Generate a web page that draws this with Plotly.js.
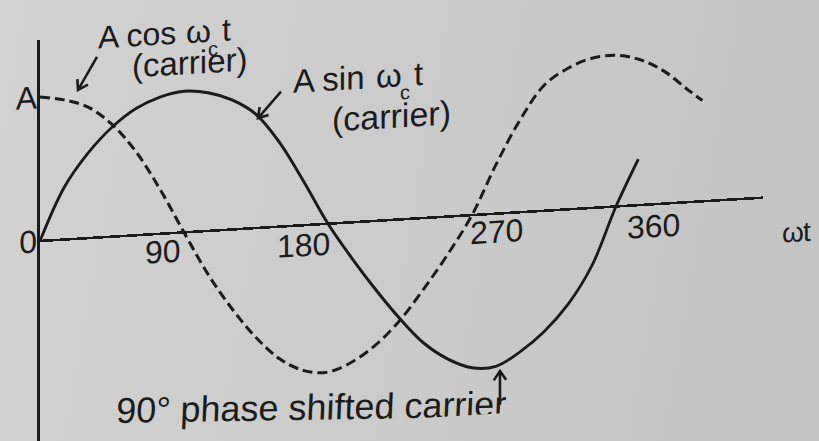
<!DOCTYPE html>
<html>
<head>
<meta charset="utf-8">
<script src="https://cdn.plot.ly/plotly-3.0.1.min.js"></script>
<style>
  html, body {
    margin: 0; padding: 0; width: 819px; height: 441px; overflow: hidden;
    background: linear-gradient(100deg, #d2d2d2 0%, #cacaca 55%, #c3c3c3 100%);
  }
  /* the printed figure sits slightly tilted on the page */
  #chart {
    width: 819px; height: 441px;
    transform: skewY(-3.43deg);
    transform-origin: 40px 241px;
  }
</style>
</head>
<body>
<div id="chart"></div>
<script>
// phase angle (degrees) and amplitude (in units of A) of the two carriers
const sinDeg = [0, 15, 30, 45, 60, 75, 90, 105, 120, 135, 150, 165, 180, 195, 210, 225,
                240, 255, 270, 285, 300, 315, 330, 345, 360, 374];
const sinVal = [0, 0.36, 0.59, 0.76, 0.88, 0.95, 0.98, 0.96, 0.90, 0.79, 0.58, 0.30, 0,
                -0.25, -0.48, -0.69, -0.87, -0.99, -1.06, -1.06, -0.97, -0.84, -0.66, -0.40, 0, 0.32];

const cosDeg = [0, 15, 30, 45, 60, 75, 90, 105, 120, 135, 150, 165, 180, 195, 210, 225,
                240, 255, 270, 285, 300, 315, 330, 345, 360, 375, 390, 405, 414];
const cosVal = [1.00, 0.97, 0.91, 0.78, 0.58, 0.31, 0, -0.30, -0.55, -0.76, -0.92, -1.01, -1.03,
                -0.97, -0.86, -0.70, -0.49, -0.26, 0, 0.34, 0.64, 0.87, 0.98, 1.04, 1.05, 1.01,
                0.92, 0.78, 0.70];

// axis labels
const phaseTicks = [90, 180, 270, 360];
const phaseTickText = ['90', '180', '270', '360'];
const ampTicks = [0, 1];
const ampTickText = ['0', 'A'];

const ink = '#1b1b1b';
const SANS = 'Liberation Sans, Arial, Helvetica, sans-serif';

const traces = [
  {
    x: sinDeg, y: sinVal, type: 'scatter', mode: 'lines',
    line: {color: ink, width: 2.9, shape: 'spline', smoothing: 1},
    name: 'A sin ωct'
  },
  {
    x: cosDeg, y: cosVal, type: 'scatter', mode: 'lines',
    line: {color: ink, width: 3, dash: '10px,5px', shape: 'spline', smoothing: 1},
    name: 'A cos ωct'
  }
];

// tick labels sit beside each zero crossing
const tickPlacement = [
  {xanchor: 'right', xshift: -1, yshift: -18},
  {xanchor: 'right', xshift: 4, yshift: -20},
  {xanchor: 'left', xshift: -4, yshift: -18},
  {xanchor: 'left', xshift: 9, yshift: -22}
];
const tickAnns = phaseTicks.map((v, i) => Object.assign({
  x: v, y: 0, xref: 'x', yref: 'y', text: phaseTickText[i], showarrow: false,
  yanchor: 'middle', font: {size: 32, color: ink}
}, tickPlacement[i]));

// one piece of a label, left-aligned at phase x
function piece(text, x, y, size, opts) {
  return Object.assign({
    x: x, y: y, xref: 'x', yref: 'y', text: text, showarrow: false,
    xanchor: 'left', yanchor: 'middle', font: {size: size, color: ink, family: SANS}
  }, opts || {});
}

// "A cos ωc t" and "A sin ωc t" are built from pieces so the subscript sits low
const cosLabelY = 0.9975, sinLabelY = 1.005;
const labelAnns = [
  piece('A cos', 35, cosLabelY, 32, {yref: 'paper'}),
  piece('ω', 90, cosLabelY, 32, {yref: 'paper'}),
  piece('c', 103.75, cosLabelY, 20, {yref: 'paper', yshift: -18}),
  piece('t', 112.5, cosLabelY, 32, {yref: 'paper'}),
  {x: 93.75, y: 1.18, xref: 'x', yref: 'y', text: '(carrier)', showarrow: false,
   xanchor: 'center', yanchor: 'middle', font: {size: 33, color: ink}},

  piece('A sin', 156.9, sinLabelY, 33),
  piece('ω', 208.75, sinLabelY, 33),
  piece('c', 223.75, sinLabelY, 20, {yshift: -18}),
  piece('t', 232.5, sinLabelY, 33),
  {x: 219.7, y: 0.72, xref: 'x', yref: 'y', text: '(carrier)', showarrow: false,
   xanchor: 'center', yanchor: 'middle', font: {size: 34, color: ink}},

  {x: 170, y: -1.27, xref: 'x', yref: 'y', text: '90° phase shifted carrier',
   showarrow: false, xanchor: 'center', yanchor: 'middle', textangle: 2.5,
   font: {size: 36, color: ink}},

  // horizontal axis name
  piece('ω', 1.0235, -0.252, 28, {xref: 'paper'}),
  piece('t', 1.0526, -0.252, 28, {xref: 'paper'})
];

// pointer arrows: tip in data units, tail offset in pixels (up is positive)
function pointer(tipX, tipY, dx, dy) {
  const L = Math.hypot(dx, dy), ux = dx / L, uy = dy / L;
  const arm = 11, spread = 34 * Math.PI / 180;
  const rot = a => [arm * (ux * Math.cos(a) - uy * Math.sin(a)),
                    arm * (ux * Math.sin(a) + uy * Math.cos(a))];
  const [ax1, ay1] = rot(spread), [ax2, ay2] = rot(-spread);
  return {
    type: 'path', xref: 'x', yref: 'y',
    xsizemode: 'pixel', ysizemode: 'pixel', xanchor: tipX, yanchor: tipY,
    path: `M${dx},${dy}L0,0M${ax1.toFixed(2)},${ay1.toFixed(2)}L0,0L${ax2.toFixed(2)},${ay2.toFixed(2)}`,
    line: {color: ink, width: 2.6}
  };
}
const shapes = [
  pointer(23.75, 1.033, 19, 32),
  pointer(136.25, 0.763, 23, 25),
  pointer(287.5, -1.094, 0, -34)
];

const layout = {
  width: 819, height: 441,
  margin: {l: 40, r: 56, t: 40, b: 0, pad: 0},
  paper_bgcolor: 'rgba(0,0,0,0)',
  plot_bgcolor: 'rgba(0,0,0,0)',
  showlegend: false,
  font: {family: SANS, color: ink},
  xaxis: {
    range: [0, 451.9], showgrid: false, zeroline: false, showline: false,
    showticklabels: false, ticks: ''
  },
  yaxis: {
    range: [-1.389, 1.396], showgrid: false,
    zeroline: true, zerolinecolor: ink, zerolinewidth: 2.6,
    showline: true, linecolor: ink, linewidth: 2.6,
    tickmode: 'array', tickvals: ampTicks, ticktext: ampTickText,
    ticks: 'inside', ticklen: 6, tickwidth: 2, tickcolor: ink,
    ticklabelstandoff: -6,
    tickfont: {size: 32, color: ink}
  },
  shapes: shapes,
  annotations: tickAnns.concat(labelAnns)
};

Plotly.newPlot('chart', traces, layout, {staticPlot: true, displayModeBar: false});
</script>
</body>
</html>
